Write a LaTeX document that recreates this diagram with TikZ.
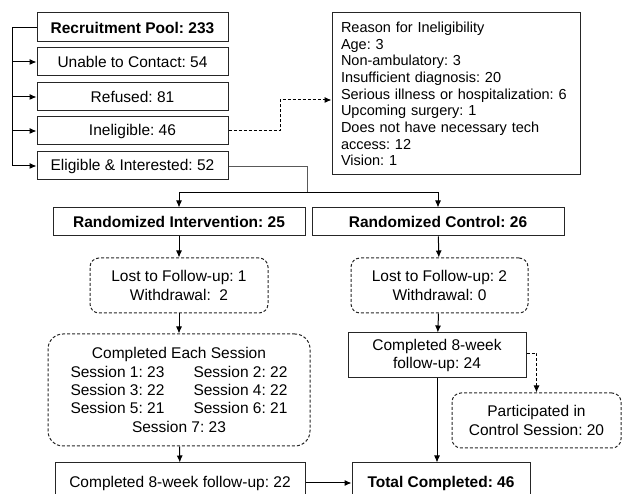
\documentclass[tikz,border=0pt]{standalone}
\usepackage{fontspec}
\setmainfont{Liberation Sans}
\usetikzlibrary{arrows.meta}
\frenchspacing
\begin{document}
\begin{tikzpicture}[
    x=1pt, y=-1pt,
    box/.style={
        rectangle,
        draw=black!85,
        line width=1pt,
        inner sep=0pt,
        font=\fontsize{15.5}{18.3}\selectfont,
        align=center
    },
    boldbox/.style={
        box,
        font=\fontsize{15.5}{18.3}\selectfont\bfseries
    },
    dbox/.style={
        box,
        rounded corners=9pt,
        dash pattern=on 3pt off 2pt
    },
    arr/.style={-{Latex[length=7pt,width=6pt]}, line width=1pt, draw=black},
    dasharr/.style={arr, dash pattern=on 3pt off 2pt}
]
\useasboundingbox (0,0) rectangle (622,494);
\clip (0,0) rectangle (622,494);

\node[boldbox, minimum width=191pt, minimum height=29pt] (pool) at (132.5,27.5) {Recruitment Pool: 233};
\node[box, minimum width=191pt, minimum height=28pt] (unable) at (132.5,62) {Unable to Contact: 54};
\node[box, minimum width=191pt, minimum height=28pt] (refused) at (132.5,97) {Refused: 81};
\node[box, minimum width=191pt, minimum height=28pt] (inelig) at (132.5,131) {Ineligible: 46};
\node[box, minimum width=191pt, minimum height=28pt] (eligible) at (132.5,166) {Eligible \& Interested: 52};

\node[box, minimum width=248pt, minimum height=162pt, text width=230pt, align=left,
      font=\fontsize{14.5}{16.7}\selectfont] (reason) at (456,94) {Reason for Ineligibility\\
    Age: 3\\
    Non-ambulatory: 3\\
    Insufficient diagnosis: 20\\
    Serious illness or hospitalization: 6\\
    Upcoming surgery: 1\\
    Does not have necessary tech\\
    access: 12\\
    Vision: 1};

\node[boldbox, minimum width=252pt, minimum height=28pt] (interv) at (179,222) {Randomized Intervention: 25};
\node[boldbox, minimum width=252pt, minimum height=28pt] (control) at (438,222) {Randomized Control: 26};

\node[dbox, minimum width=178pt, minimum height=55pt] (lostint) at (179,285.5) {Lost to Follow-up: 1\\Withdrawal:\ \ 2};
\node[dbox, minimum width=177pt, minimum height=55pt] (lostctrl) at (439.5,285.5) {Lost to Follow-up: 2\\Withdrawal: 0};

\node[dbox, rounded corners=15pt, minimum width=262pt, minimum height=112pt] (sessions) at (179,390) {Completed Each Session\\
    \makebox[123pt][l]{Session 1: 23}Session 2: 22\\
    \makebox[123pt][l]{Session 3: 22}Session 4: 22\\
    \makebox[123pt][l]{Session 5: 21}Session 6: 21\\
    Session 7: 23};
\node[box, minimum width=178pt, minimum height=45pt] (ctrldone) at (437,355.5) {Completed 8-week\\follow-up: 24};
\node[dbox, minimum width=169pt, minimum height=55pt] (partic) at (536.5,420.5) {Participated in\\Control Session: 20};

\node[box, minimum width=250pt, minimum height=40pt] (intdone) at (180,483) {Completed 8-week follow-up: 22};
\node[boldbox, minimum width=178pt, minimum height=40pt] (total) at (441,483) {Total Completed: 46};

\coordinate (bus) at (12,0);
\coordinate (bend) at (280,0);
\coordinate (split) at (307,193);

\draw[arr] (pool.west) -- (pool.west -| bus) |- (eligible.west);
\foreach \n in {unable,refused,inelig}
    \draw[arr] (\n.west -| bus) -- (\n.west);
\draw[dasharr] (inelig.east) -- (inelig.east -| bend) |- ([yshift=-6pt]reason.west);

\draw[line width=0.7pt, draw=black!65] (eligible.east) -| (split);
\draw[arr] (split) -| (interv.north);
\draw[arr] (split) -| (control.north);

\draw[arr] (interv) -- (lostint);
\draw[arr] (lostint) -- (sessions);
\draw[arr] (sessions) -- (intdone);
\draw[arr] (control) -- (lostctrl);
\draw[arr] (lostctrl) -- (ctrldone);
\draw[arr] (ctrldone.south) -- (ctrldone.south |- total.north);
\draw[dasharr] ([yshift=2pt]ctrldone.east) -| (partic.north);
\draw[arr] (intdone) -- (total);

\end{tikzpicture}
\end{document}
